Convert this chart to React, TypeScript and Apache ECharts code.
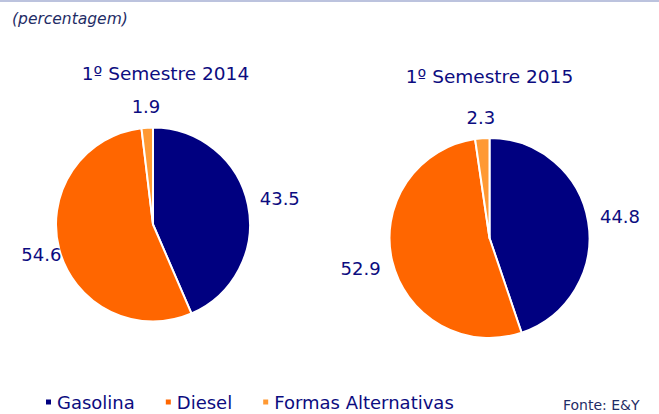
import React, { useEffect, useRef } from "react";
import * as echarts from "echarts";

const categories = ["Gasolina", "Diesel", "Formas Alternativas"];
const values2014 = [43.5, 54.6, 1.9];
const values2015 = [44.8, 52.9, 2.3];
const titles = ["1º Semestre 2014", "1º Semestre 2015"];
const colors = ["#000080", "#ff6600", "#ff9933"];

const FONT = "DejaVu Sans";
const NAVY = "#0c0c80";

const pies = [
  { values: values2014, cx: 153, cy: 224.5, r: 97, gaps: [11, -3, 11] },
  { values: values2015, cx: 489.5, cy: 238, r: 100, gaps: [11, 11, 11] },
];

export default function App() {
  const ref = useRef<HTMLDivElement>(null);
  useEffect(() => {
    document.body.style.margin = "0";
    const chart = echarts.init(ref.current!, null, { renderer: "svg" });
    const labelLayout = (si: number) => (params: any) => {
      const p = pies[si];
      const vals = p.values;
      const total = vals.reduce((a, b) => a + b, 0);
      let cum = 0;
      for (let i = 0; i < params.dataIndex; i++) cum += vals[i];
      const mid = ((cum + vals[params.dataIndex] / 2) / total) * Math.PI * 2;
      const dx = Math.sin(mid);
      const dy = -Math.cos(mid);
      const w = params.labelRect.width;
      const h = params.labelRect.height;
      const gap = p.gaps[params.dataIndex];
      const D = p.r + gap + (Math.abs(dx) * w) / 2 + (Math.abs(dy) * h) / 2;
      return {
        x: p.cx + dx * D,
        y: p.cy + dy * D,
        align: "center",
        verticalAlign: "middle",
      };
    };
    const series = pies.map((p, si) => ({
      type: "pie",
      center: [p.cx, p.cy],
      radius: p.r,
      startAngle: 90,
      clockwise: true,
      avoidLabelOverlap: false,
      itemStyle: { borderColor: "#ffffff", borderWidth: 2 },
      label: {
        show: true,
        position: "outside",
        formatter: (d: any) => d.value.toFixed(1),
        fontFamily: FONT,
        fontSize: 18,
        color: NAVY,
      },
      labelLine: { show: false },
      labelLayout: labelLayout(si),
      emphasis: { disabled: true },
      data: categories.map((c, i) => ({
        name: c,
        value: p.values[i],
        itemStyle: { color: colors[i] },
      })),
    }));
    chart.setOption({
      animation: false,
      legend: {
        data: categories,
        icon: "rect",
        itemWidth: 7,
        itemHeight: 7,
        itemGap: 29,
        left: 44,
        top: 393,
        padding: 0,
        textStyle: { fontFamily: FONT, fontSize: 18, color: NAVY },
        selectedMode: false,
      },
      graphic: [
        {
          type: "rect",
          shape: { x: 0, y: 0, width: 659, height: 2 },
          style: { fill: "#bcc3de" },
        },
        {
          type: "text",
          x: 12,
          y: 19,
          style: {
            text: "(percentagem)",
            font: `italic 15.5px "${FONT}"`,
            fill: "#1f2d66",
            textVerticalAlign: "middle",
          },
        },
        {
          type: "text",
          x: 165.5,
          y: 73,
          style: {
            text: titles[0],
            font: `18.5px "${FONT}"`,
            fill: NAVY,
            textAlign: "center",
            textVerticalAlign: "middle",
          },
        },
        {
          type: "text",
          x: 489.5,
          y: 76,
          style: {
            text: titles[1],
            font: `18.5px "${FONT}"`,
            fill: NAVY,
            textAlign: "center",
            textVerticalAlign: "middle",
          },
        },
        {
          type: "text",
          x: 563,
          y: 398,
          style: {
            text: "Fonte: E&Y",
            font: `14px "${FONT}"`,
            fill: "#1f2d66",
          },
        },
      ],
      series,
    });
    return () => chart.dispose();
  }, []);
  return <div ref={ref} style={{ width: 659, height: 414 }} />;
}
